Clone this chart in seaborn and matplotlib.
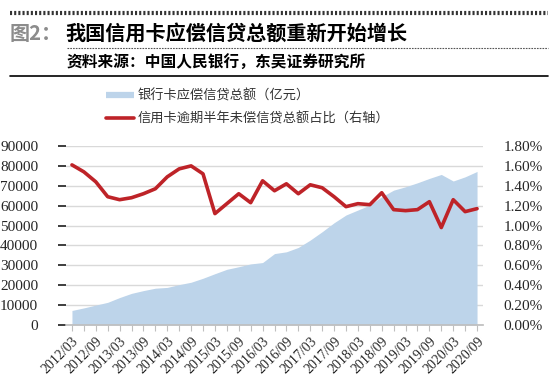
import matplotlib
matplotlib.use("Agg")
import matplotlib.pyplot as plt
import seaborn as sns
import pandas as pd
from matplotlib.lines import Line2D
from matplotlib.ticker import FuncFormatter, MultipleLocator

quarters = [
    "2012/03", "2012/06", "2012/09", "2012/12", "2013/03", "2013/06", "2013/09", "2013/12",
    "2014/03", "2014/06", "2014/09", "2014/12", "2015/03", "2015/06", "2015/09", "2015/12",
    "2016/03", "2016/06", "2016/09", "2016/12", "2017/03", "2017/06", "2017/09", "2017/12",
    "2018/03", "2018/06", "2018/09", "2018/12", "2019/03", "2019/06", "2019/09", "2019/12",
    "2020/03", "2020/06", "2020/09",
]
# 银行卡应偿信贷总额（亿元）
balance = [
    7300, 8600, 10000, 11400, 13800, 15900, 17300, 18500,
    18900, 20300, 21500, 23500, 25800, 28000, 29300, 30700,
    31400, 35900, 36800, 39000, 42700, 46900, 51400, 55300,
    57800, 60300, 64500, 67800, 69500, 71500, 73700, 75700,
    72400, 74500, 77200,
]
# 信用卡逾期半年未偿信贷总额占比（%）
overdue_pct = [
    1.61, 1.54, 1.44, 1.29, 1.26, 1.28, 1.32, 1.37,
    1.49, 1.57, 1.60, 1.52, 1.12, 1.22, 1.32, 1.23,
    1.45, 1.35, 1.42, 1.32, 1.41, 1.38, 1.29, 1.19,
    1.22, 1.21, 1.33, 1.16, 1.15, 1.16, 1.24, 0.98,
    1.26, 1.14, 1.17,
]

sns.set_theme(style="white")
plt.rcParams["font.family"] = ["Noto Sans CJK SC", "DejaVu Sans"]

df = pd.DataFrame({"q": range(len(quarters)), "balance": balance, "pct": overdue_pct})

fig = plt.figure(figsize=(5.5, 3.78), dpi=100)
W, H = 550, 378
ax = fig.add_axes([66 / W, 53 / H, 417 / W, 179 / H])

area_color = "#BDD4EA"
line_color = "#BE2328"

ax.fill_between(df["q"], df["balance"], color=area_color, lw=0, zorder=2)
ax.set_xlim(-0.5, len(quarters) - 0.5)
ax.set_ylim(0, 90000)
ax.yaxis.set_major_locator(MultipleLocator(10000))
ax.grid(axis="y", color="#D9D9D9", lw=1, zorder=0)
ax.set_axisbelow(True)
for s in ["top", "right", "left"]:
    ax.spines[s].set_visible(False)
ax.spines["bottom"].set_color("#BFBFBF")
ax.spines["bottom"].set_zorder(3)

ax.set_xticks(range(len(quarters)))
ax.set_xticklabels([q if i % 2 == 0 else "" for i, q in enumerate(quarters)])
ax.tick_params(axis="x", bottom=True, length=4, width=0.8, color="#BFBFBF", pad=3)
ax.tick_params(axis="y", left=False, pad=14)
for lab in ax.get_xticklabels():
    lab.set_rotation(45)
    lab.set_ha("right")
    lab.set_rotation_mode("anchor")
    lab.set_family("Liberation Serif")
    lab.set_fontsize(10)
    lab.set_color("#262626")
for lab in ax.get_yticklabels():
    lab.set_family("Liberation Serif")
    lab.set_fontsize(11)
    lab.set_color("#262626")

ax2 = ax.twinx()
sns.lineplot(data=df, x="q", y="pct", ax=ax2, color=line_color, lw=2.6, zorder=5)
ax2.set_ylim(0, 1.8)
ax2.yaxis.set_major_locator(MultipleLocator(0.2))
ax2.yaxis.set_major_formatter(FuncFormatter(lambda v, p: f"{v:.2f}%"))
ax2.set_xlabel("")
ax2.set_ylabel("")
ax.set_xlabel("")
ax.set_ylabel("")
for s in ax2.spines.values():
    s.set_visible(False)
ax2.tick_params(axis="y", right=False, pad=9)
for lab in ax2.get_yticklabels():
    lab.set_family("Liberation Serif")
    lab.set_fontsize(11)
    lab.set_color("#262626")

# header
fig.add_artist(Line2D([10 / W, 548 / W], [1 - 13 / H] * 2, color="#333333", lw=3,
                      linestyle=(0, (0.5, 0.5))))
fig.text(10 / W, 1 - 33 / H, "图2：", color="#8C8C8C", fontsize=14.5, fontweight="bold", va="center")
fig.text(65 / W, 1 - 33 / H, "我国信用卡应偿信贷总额重新开始增长", color="black",
         fontsize=14.5, fontweight="bold", va="center")
fig.add_artist(Line2D([67 / W, 548 / W], [1 - 48 / H] * 2, color="#555555", lw=0.8,
                      linestyle=(0, (1.5, 1))))
fig.text(67 / W, 1 - 63 / H, "资料来源：中国人民银行，东吴证券研究所", color="black",
         fontsize=11.3, fontweight="bold", va="center")
fig.add_artist(Line2D([10 / W, 548 / W], [1 - 76 / H] * 2, color="black", lw=1.2))

handles = [Line2D([], [], color=area_color, lw=4.5, solid_capstyle="butt"),
           Line2D([], [], color=line_color, lw=2.6)]
labels = ["银行卡应偿信贷总额（亿元）", "信用卡逾期半年未偿信贷总额占比（右轴）"]
leg = fig.legend(handles, labels, loc="upper left", bbox_to_anchor=(106 / W, 1 - 89 / H),
                 frameon=False, fontsize=9.5, handlelength=2.1, handletextpad=0.3,
                 labelspacing=0.75, borderaxespad=0, borderpad=0)
for t in leg.get_texts():
    t.set_color("#333333")

fig.savefig("out.png", dpi=100)
